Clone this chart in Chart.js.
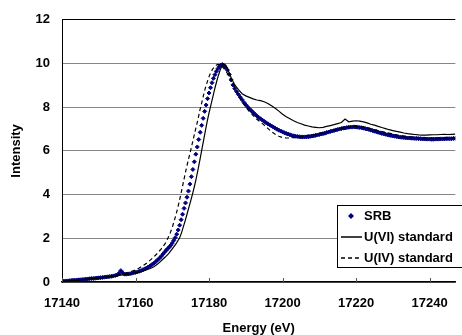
<!DOCTYPE html>
<html>
<head>
<meta charset="utf-8">
<title>U L3-edge XANES</title>
<script src="https://cdn.jsdelivr.net/npm/chart.js@4.4.0/dist/chart.umd.min.js"></script>
<style>
  html, body { margin: 0; padding: 0; background: #fff; }
  #wrap { width: 462px; height: 335px; position: relative; }
</style>
</head>
<body>
<div id="wrap"><canvas id="xanesChart" width="462" height="335"></canvas></div>
<script>
// SRB sample (markers)
var srbEnergy = [
    17140,17140.5,17141,17141.5,17142,17142.5,17143,17143.5,17144,17144.5,
    17145,17145.5,17146,17146.5,17147,17147.5,17148,17148.5,17149,17149.5,
    17150,17150.5,17151,17151.5,17152,17152.5,17153,17153.5,17154,17154.5,
    17155,17155.5,17156,17156.5,17157,17157.5,17158,17158.5,17159,17159.5,
    17160,17160.5,17161,17161.5,17162,17162.5,17163,17163.5,17164,17164.5,
    17165,17165.5,17166,17166.5,17167,17167.5,17168,
    17168.4,17168.8,17169.2,17169.6,17170,17170.4,17170.8,17171.2,17171.6,17172,
    17172.4,17172.8,17173.2,17173.6,17174,17174.4,17174.8,17175.2,17175.6,17176,
    17176.4,17176.8,17177.2,17177.6,17178,17178.4,17178.8,17179.2,17179.6,17180,
    17180.4,17180.8,17181.2,17181.6,17182,17182.4,17182.8,17183.2,17183.6,17184,
    17184.5,17185,17185.5,17186,17186.5,17187,17187.5,17188,17188.5,17189,17189.5,17190,17190.5,17191,
    17191.5,17192,17192.5,17193,17193.5,17194,17194.5,17195,17195.5,17196,17196.5,17197,17197.5,17198,
    17198.5,17199,17199.5,17200,17200.5,17201,17201.5,17202,17202.5,17203,17203.5,17204,17204.5,17205,
    17205.5,17206,17206.5,17207,17207.5,17208,17208.5,17209,17209.5,17210,
    17210.5,17211,17211.5,17212,17212.5,17213,17213.5,17214,17214.5,17215,
    17215.5,17216,17216.5,17217,17217.5,17218,17218.5,17219,17219.5,17220,
    17220.5,17221,17221.5,17222,17222.5,17223,17223.5,17224,17224.5,17225,
    17225.5,17226,17226.5,17227,17227.5,17228,17228.5,17229,17229.5,17230,
    17230.5,17231,17231.5,17232,17232.5,17233,17233.5,17234,17234.5,17235,
    17235.5,17236,17236.5,17237,17237.5,17238,17238.5,17239,17239.5,17240,
    17240.5,17241,17241.5,17242,17242.5,17243,17243.5,17244,17244.5,17245,
    17245.5,17246,17246.5,17247
];
var srbIntensity = [
    0.03,0.04,0.05,0.05,0.06,0.07,0.08,0.08,0.09,0.10,
    0.10,0.11,0.12,0.13,0.14,0.15,0.16,0.16,0.17,0.18,
    0.19,0.20,0.21,0.22,0.23,0.24,0.25,0.26,0.28,0.30,
    0.32,0.40,0.52,0.42,0.36,0.36,0.37,0.38,0.40,0.42,
    0.44,0.46,0.49,0.52,0.56,0.60,0.64,0.69,0.74,0.80,
    0.86,0.93,1.01,1.09,1.18,1.28,1.38,
    1.46,1.53,1.60,1.68,1.78,1.90,2.03,2.19,2.38,2.60,
    2.85,3.10,3.37,3.62,3.88,4.16,4.48,4.82,5.15,5.50,
    5.85,6.18,6.52,6.85,7.17,7.49,7.81,8.10,8.39,8.65,
    8.89,9.12,9.32,9.49,9.64,9.76,9.86,9.92,9.95,9.91,
    9.82,9.70,9.50,9.25,9.02,8.85,8.71,8.58,8.46,8.34,8.22,8.11,8.01,7.92,
    7.84,7.76,7.68,7.60,7.53,7.47,7.41,7.35,7.29,7.24,7.19,7.14,7.09,7.04,
    6.99,6.95,6.91,6.87,6.83,6.80,6.77,6.74,6.71,6.69,6.67,6.66,6.65,6.64,
    6.64,6.64,6.64,6.65,6.66,6.68,6.69,6.71,6.73,6.75,
    6.77,6.79,6.81,6.84,6.86,6.89,6.91,6.93,6.96,6.98,
    7.00,7.02,7.04,7.05,7.07,7.08,7.09,7.09,7.10,7.09,
    7.08,7.07,7.06,7.04,7.02,7.00,6.98,6.95,6.93,6.90,
    6.88,6.85,6.83,6.80,6.78,6.76,6.74,6.72,6.70,6.69,
    6.67,6.66,6.64,6.63,6.62,6.61,6.60,6.59,6.59,6.58,
    6.58,6.57,6.57,6.56,6.56,6.55,6.55,6.54,6.54,6.54,
    6.53,6.53,6.54,6.54,6.54,6.55,6.55,6.55,6.56,6.56,
    6.56,6.56,6.57,6.57
];

// U(VI) standard (solid line)
var u6Energy = [
    17140,17142,17144,17146,17148,17150,17152,17154,17156,17158,17160,17162,17164,
    17165,17166,17167,17168,17169,17170,17171,17172,
    17172.5,17173,17173.5,17174,17174.5,17175,17175.5,17176,17176.5,17177,17177.5,17178,
    17178.5,17179,17179.5,17180,17180.5,17181,17181.5,17182,17182.5,17183,17183.5,17184,
    17184.5,17185,17185.5,17186,17187,17188,17189,17190,17191,17192,17193,17194,
    17195,17196,17197,17198,17199,17200,17201,17202,17203,17204,17205,17206,
    17207,17208,17209,17210,17211,17212,17213,17214,17215,17216,17217,17218,
    17219,17220,17221,17222,17223,17224,17225,17226,17227,17228,17229,17230,
    17231,17232,17233,17234,17235,17236,17237,17238,17239,17240,17241,17242,17243,17244,17245,17246,17247
];
var u6Intensity = [
    0.02,0.05,0.08,0.11,0.15,0.18,0.22,0.26,0.31,0.36,0.42,0.50,0.62,
    0.70,0.82,0.97,1.13,1.30,1.52,1.74,2.02,
    2.25,2.52,2.80,3.10,3.40,3.70,4.02,4.36,4.73,5.14,5.58,6.02,
    6.47,6.92,7.35,7.74,8.10,8.45,8.80,9.13,9.43,9.69,9.88,9.98,
    9.93,9.77,9.56,9.36,9.02,8.80,8.62,8.52,8.45,8.38,8.33,8.30,
    8.25,8.17,8.07,7.95,7.82,7.68,7.56,7.47,7.38,7.30,7.24,7.18,
    7.14,7.10,7.08,7.06,7.08,7.12,7.16,7.20,7.25,7.30,7.46,7.33,
    7.36,7.38,7.36,7.33,7.28,7.22,7.18,7.12,7.07,7.02,6.97,6.93,
    6.89,6.86,6.82,6.79,6.77,6.75,6.73,6.72,6.72,6.73,6.74,6.74,6.75,6.76,6.75,6.76,6.77
];

// U(IV) standard (dashed line)
var u4Energy = [
    17140,17142,17144,17146,17148,17150,17152,17154,17156,17158,17160,
    17161,17162,17163,17164,17165,17166,17167,17168,
    17168.5,17169,17169.5,17170,17170.5,17171,17171.5,17172,17172.5,17173,17173.5,17174,
    17174.5,17175,17175.5,17176,17176.5,17177,17177.5,17178,17178.5,17179,17179.5,17180,
    17180.5,17181,17181.5,17182,17182.5,17183,17183.5,17184,17185,17186,17187,17188,
    17189,17190,17191,17192,17193,17194,17195,17196,17197,17198,17199,17200,
    17201,17202,17203,17204,17205,17206,17208,17210,17212,17214,17216,17218,
    17220,17222,17224,17226,17228,17230,17232,17234,17236,17238,17240,17242,17244,17246,17247
];
var u4Intensity = [
    0.03,0.06,0.09,0.12,0.16,0.20,0.24,0.29,0.35,0.43,0.55,
    0.64,0.74,0.86,1.00,1.15,1.32,1.52,1.74,
    1.90,2.07,2.27,2.50,2.78,3.08,3.40,3.76,4.15,4.55,4.95,5.33,
    5.68,6.02,6.38,6.75,7.10,7.45,7.85,8.20,8.55,8.88,9.15,9.40,
    9.60,9.75,9.86,9.93,9.96,9.94,9.88,9.78,9.55,9.25,8.90,8.55,
    8.25,8.00,7.80,7.62,7.45,7.32,7.18,7.03,6.88,6.76,6.67,6.61,
    6.59,6.59,6.61,6.63,6.66,6.69,6.73,6.79,6.87,6.95,7.03,7.10,
    7.13,7.10,7.02,6.93,6.85,6.77,6.70,6.65,6.62,6.60,6.59,6.60,6.61,6.61,6.62
];

var seriesLabels = ["SRB", "U(VI) standard", "U(IV) standard"];

function toPoints(xs, ys) {
    return xs.map(function(x, i) { return { x: x, y: ys[i] }; });
}

var fontFamily = "'Liberation Sans', Arial, sans-serif";
Chart.defaults.font.family = fontFamily;
Chart.defaults.font.size = 13;
Chart.defaults.font.weight = "bold";
Chart.defaults.color = "#000";

// small tick marks pointing into the plot along the bottom axis
var innerTicks = {
    id: "innerTicks",
    afterDraw: function(chart) {
        var xs = chart.scales.x, area = chart.chartArea, c = chart.ctx;
        c.save();
        c.strokeStyle = "#555";
        c.lineWidth = 1;
        xs.ticks.forEach(function(t) {
            var px = Math.round(xs.getPixelForValue(t.value)) + 0.5;
            c.beginPath();
            c.moveTo(px, area.bottom);
            c.lineTo(px, area.bottom - 4);
            c.stroke();
        });
        c.restore();
    }
};

// boxed legend in the lower right corner of the plot
var boxLegend = {
    id: "boxLegend",
    afterDraw: function(chart) {
        var c = chart.ctx, area = chart.chartArea;
        var left = Math.round(area.right - 118), top = Math.round(area.bottom - 77);
        c.save();
        c.fillStyle = "#fff";
        c.fillRect(left, top, 130, 63);
        c.strokeStyle = "#000";
        c.lineWidth = 1;
        c.strokeRect(left + 0.5, top + 0.5, 130, 62);
        c.font = "bold 13px " + fontFamily;
        c.textBaseline = "middle";
        chart.data.datasets.forEach(function(ds, i) {
            var y = top + 11 + i * 21;
            if (ds.showLine === false) {
                c.fillStyle = ds.backgroundColor;
                c.beginPath();
                c.moveTo(left + 14, y - 3);
                c.lineTo(left + 17, y);
                c.lineTo(left + 14, y + 3);
                c.lineTo(left + 11, y);
                c.closePath();
                c.fill();
            } else {
                c.strokeStyle = ds.borderColor;
                c.lineWidth = 1.5;
                c.setLineDash(ds.borderDash || []);
                c.beginPath();
                c.moveTo(left + 4, y);
                c.lineTo(left + 25, y);
                c.stroke();
                c.setLineDash([]);
            }
            c.fillStyle = "#000";
            c.fillText(ds.label, left + 27, y);
        });
        c.restore();
    }
};

var ctx = document.getElementById("xanesChart").getContext("2d");
var xanesChart = new Chart(ctx, {
    type: "scatter",
    data: {
        datasets: [{
            label: seriesLabels[0],
            data: toPoints(srbEnergy, srbIntensity),
            showLine: false,
            pointStyle: "rectRot",
            pointRadius: 2,
            pointBorderWidth: 1,
            backgroundColor: "#000080",
            borderColor: "#000080",
            order: 3
        }, {
            label: seriesLabels[1],
            data: toPoints(u6Energy, u6Intensity),
            showLine: true,
            borderColor: "#000",
            backgroundColor: "#000",
            borderWidth: 1.2,
            pointRadius: 0,
            order: 2
        }, {
            label: seriesLabels[2],
            data: toPoints(u4Energy, u4Intensity),
            showLine: true,
            borderColor: "#000",
            backgroundColor: "#000",
            borderWidth: 1.2,
            borderDash: [4, 3],
            pointRadius: 0,
            order: 1
        }]
    },
    options: {
        responsive: false,
        animation: false,
        layout: { padding: { top: 17, right: 0, bottom: 0, left: 0 } },
        plugins: {
            legend: { display: false },
            tooltip: { enabled: false }
        },
        scales: {
            x: {
                type: "linear",
                min: 17140,
                max: 17247,
                afterFit: function(s) { s.height = 53; },
                ticks: {
                    stepSize: 20,
                    includeBounds: false,
                    padding: 14,
                    maxRotation: 0,
                    callback: function(v) { return String(v); }
                },
                grid: { display: false, drawTicks: false },
                border: { color: "#000", width: 1.5 },
                title: {
                    display: true,
                    text: "Energy (eV)",
                    font: { size: 13, weight: "bold", lineHeight: 1 },
                    padding: { top: 0, bottom: 0 }
                }
            },
            y: {
                min: 0,
                max: 12,
                afterFit: function(s) { s.width = 62; },
                ticks: { stepSize: 2, padding: 12 },
                grid: {
                    drawTicks: false,
                    lineWidth: 1,
                    color: function(c) { return c.tick && c.tick.value === 12 ? "#000" : "#868686"; }
                },
                border: { color: "#000", width: 1 },
                title: {
                    display: true,
                    text: "Intensity",
                    font: { size: 13, weight: "bold", lineHeight: 1 },
                    padding: { top: 10, bottom: 0 }
                }
            }
        }
    },
    plugins: [innerTicks, boxLegend]
});
</script>
</body>
</html>
